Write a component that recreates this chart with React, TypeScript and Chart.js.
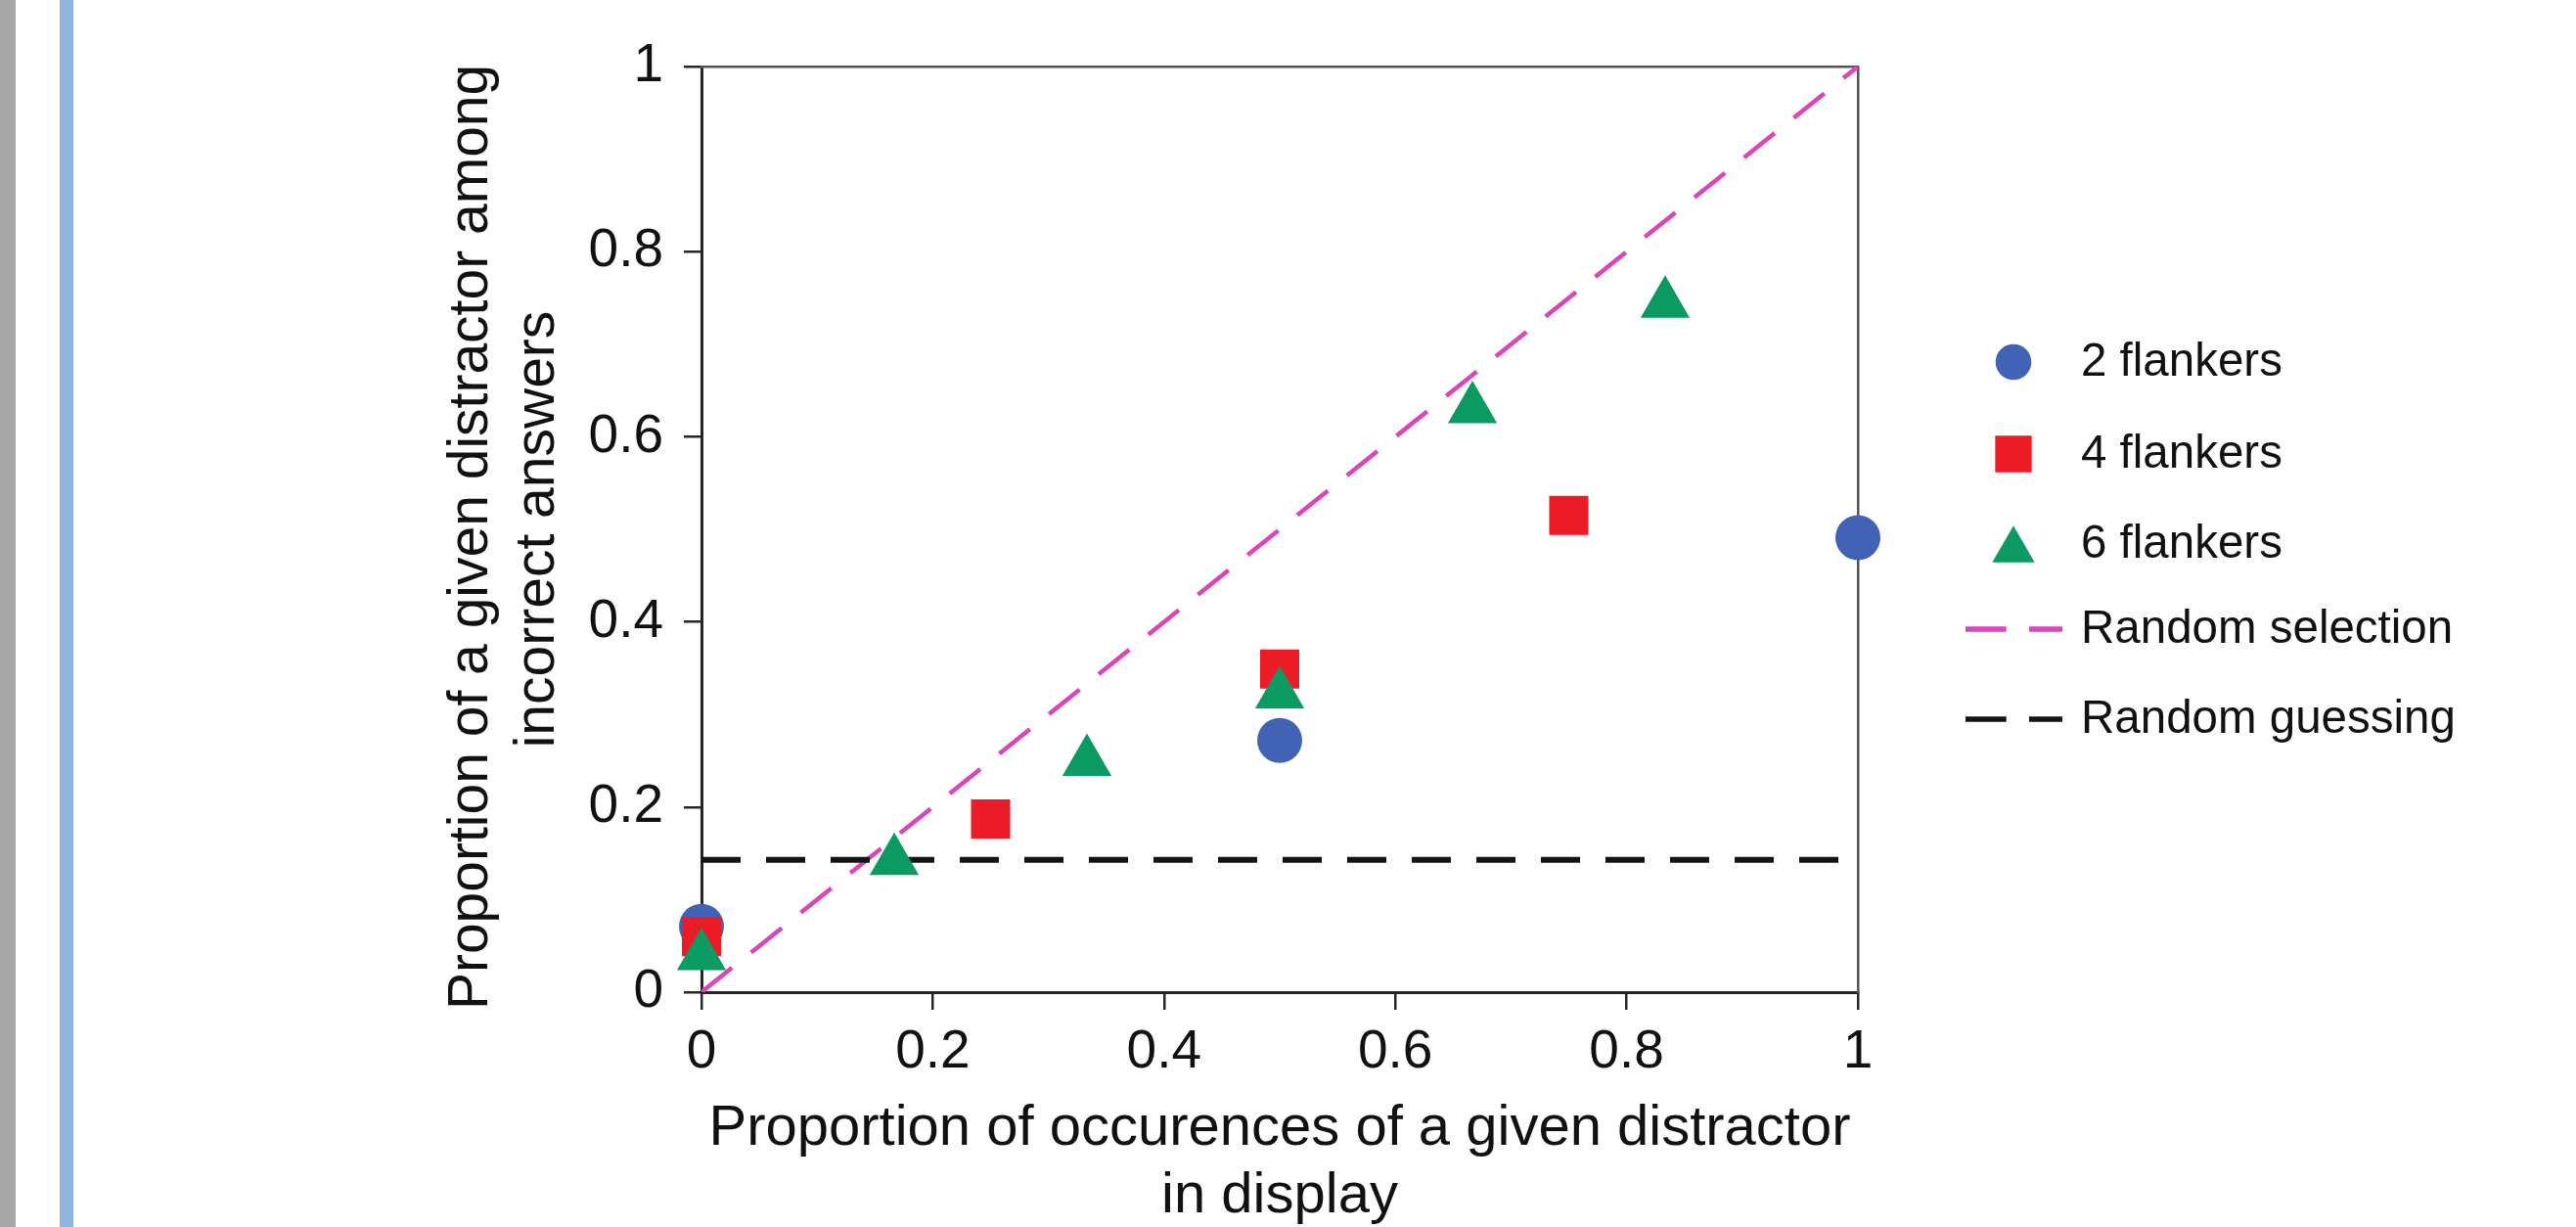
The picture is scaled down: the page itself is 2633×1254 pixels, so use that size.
import React, { useEffect, useRef } from 'react';
import { Chart, registerables } from 'chart.js';

Chart.register(...registerables);

// ---- data ----
const flank2X = [0, 0.5, 1];
const flank2Y = [0.071, 0.272, 0.491];
const flank4X = [0, 0.25, 0.5, 0.75];
const flank4Y = [0.06, 0.187, 0.349, 0.515];
const flank6X = [0, 0.1667, 0.3333, 0.5, 0.6667, 0.8333];
const flank6Y = [0.039, 0.142, 0.249, 0.322, 0.63, 0.744];
const selectionX = [0, 1];
const selectionY = [0, 1];
const guessingX = [0, 1];
const guessingY = [0.143, 0.143];

const seriesLabels = ['2 flankers', '4 flankers', '6 flankers', 'Random selection', 'Random guessing'];
const xTickLabels = ['0', '0.2', '0.4', '0.6', '0.8', '1'];
const yTickLabels = ['0', '0.2', '0.4', '0.6', '0.8', '1'];
const xTitle = ['Proportion of occurences of a given distractor', 'in display'];
const yTitle = ['Proportion of a given distractor among ', 'incorrect answers'];

const FONT = '"Liberation Sans", Arial, Helvetica, sans-serif';
const TEXT = '#111111';
const AXIS = '#262626';
const FRAME = '#555555';

const pts = (xs: number[], ys: number[]) => xs.map((x, i) => ({ x, y: ys[i] }));

const sideLegend = {
  id: 'sideLegend',
  afterDraw(chart: any, _args: any, opts: any) {
    const ctx = chart.ctx as CanvasRenderingContext2D;
    const right = chart.chartArea.right;
    const markerX = right + opts.markerOffset;
    const lineX0 = right + opts.lineStart;
    const lineX1 = right + opts.lineEnd;
    const textX = right + opts.textOffset;
    chart.data.datasets.forEach((ds: any, i: number) => {
      const cy = opts.rows[i];
      ctx.save();
      if (ds.showLine) {
        ctx.strokeStyle = ds.borderColor;
        ctx.lineWidth = opts.lineWidth;
        ctx.setLineDash(opts.dash);
        ctx.beginPath();
        ctx.moveTo(lineX0, cy);
        ctx.lineTo(lineX1, cy);
        ctx.stroke();
        ctx.setLineDash([]);
      } else {
        ctx.fillStyle = ds.backgroundColor;
        const r = opts.radius[ds.pointStyle];
        ctx.beginPath();
        if (ds.pointStyle === 'circle') {
          ctx.arc(markerX, cy, r, 0, Math.PI * 2);
        } else if (ds.pointStyle === 'rect') {
          const s = r * Math.SQRT2;
          ctx.rect(markerX - s / 2, cy - s / 2, s, s);
        } else {
          const py = cy + r / 4;
          ctx.moveTo(markerX, py - r);
          ctx.lineTo(markerX + r * Math.sin((2 * Math.PI) / 3), py + r / 2);
          ctx.lineTo(markerX - r * Math.sin((2 * Math.PI) / 3), py + r / 2);
          ctx.closePath();
        }
        ctx.fill();
      }
      ctx.fillStyle = opts.color;
      ctx.font = opts.font;
      ctx.textAlign = 'left';
      ctx.textBaseline = 'middle';
      ctx.fillText(ds.label, textX, cy + opts.textShift);
      ctx.restore();
    });
  },
};

export default function App() {
  const ref = useRef<HTMLCanvasElement>(null);

  useEffect(() => {
    if (!ref.current) return;
    Chart.defaults.font.family = FONT;
    const chart = new Chart(ref.current, {
      type: 'scatter',
      data: {
        datasets: [
          {
            label: seriesLabels[0],
            data: pts(flank2X, flank2Y),
            pointStyle: 'circle',
            pointRadius: 23,
            pointHoverRadius: 23,
            backgroundColor: '#4262b5',
            pointBorderWidth: 0,
            clip: false,
            order: 3,
          },
          {
            label: seriesLabels[1],
            data: pts(flank4X, flank4Y),
            pointStyle: 'rect',
            pointRadius: 28.3,
            pointHoverRadius: 28.3,
            backgroundColor: '#ec1c27',
            pointBorderWidth: 0,
            clip: false,
            order: 2,
          },
          {
            label: seriesLabels[2],
            data: pts(flank6X, flank6Y),
            pointStyle: 'triangle',
            pointRadius: 29,
            pointHoverRadius: 29,
            backgroundColor: '#0b9a62',
            pointBorderWidth: 0,
            clip: false,
            order: 1,
          },
          {
            label: seriesLabels[3],
            data: pts(selectionX, selectionY),
            showLine: true,
            pointRadius: 0,
            borderColor: '#dc45b8',
            backgroundColor: '#dc45b8',
            borderWidth: 4.5,
            borderDash: [40, 25],
            order: 5,
          },
          {
            label: seriesLabels[4],
            data: pts(guessingX, guessingY),
            showLine: true,
            pointRadius: 0,
            borderColor: '#141414',
            backgroundColor: '#141414',
            borderWidth: 6,
            borderDash: [40, 26],
            order: 4,
          },
        ] as any,
      },
      options: {
        responsive: false,
        maintainAspectRatio: false,
        devicePixelRatio: 1,
        animation: false,
        events: [],
        layout: { padding: { left: 0, right: 734, top: 68, bottom: 0 } },
        plugins: {
          legend: { display: false },
          tooltip: { enabled: false },
          sideLegend: {
            markerOffset: 159,
            lineStart: 110,
            lineEnd: 209,
            textOffset: 228,
            rows: [370, 464, 556, 643, 735],
            lineWidth: 5.7,
            dash: [41.7, 23.3],
            radius: { circle: 18.3, rect: 26.4, triangle: 25 },
            font: `47.5px ${FONT}`,
            color: TEXT,
            textShift: 0.5,
          },
        } as any,
        scales: {
          x: {
            type: 'linear',
            position: 'bottom',
            min: 0,
            max: 1,
            afterFit: (s: any) => {
              s.height = 240;
            },
            ticks: {
              stepSize: 0.2,
              autoSkip: false,
              maxRotation: 0,
              padding: 11,
              color: TEXT,
              font: { size: 55, family: FONT },
              callback: (_v: any, i: number) => xTickLabels[i],
            },
            grid: {
              drawOnChartArea: false,
              drawTicks: true,
              tickLength: 18,
              color: AXIS,
              lineWidth: 2.5,
            },
            border: { display: true, color: AXIS, width: 3 },
            title: {
              display: true,
              text: xTitle,
              color: TEXT,
              font: { size: 58, family: FONT },
              padding: { top: 0, bottom: -4 },
            },
          },
          y: {
            type: 'linear',
            position: 'left',
            min: 0,
            max: 1,
            afterFit: (s: any) => {
              s.width = 717;
            },
            ticks: {
              stepSize: 0.2,
              autoSkip: false,
              padding: 21,
              color: TEXT,
              font: { size: 55, family: FONT },
              callback: (_v: any, i: number) => yTickLabels[i],
            },
            grid: {
              drawOnChartArea: false,
              drawTicks: true,
              tickLength: 18,
              color: AXIS,
              lineWidth: 2.5,
            },
            border: { display: true, color: AXIS, width: 3 },
            title: {
              display: true,
              text: yTitle,
              color: TEXT,
              font: { size: 57, family: FONT },
              padding: { top: 448, bottom: 0 },
            },
          },
          x2: {
            type: 'linear',
            position: 'top',
            min: 0,
            max: 1,
            afterFit: (s: any) => {
              s.height = 0;
            },
            ticks: { display: false },
            grid: { drawOnChartArea: false, drawTicks: false },
            border: { display: true, color: FRAME, width: 2.5 },
          },
          y2: {
            type: 'linear',
            position: 'right',
            min: 0,
            max: 1,
            afterFit: (s: any) => {
              s.width = 0;
            },
            ticks: { display: false },
            grid: { drawOnChartArea: false, drawTicks: false },
            border: { display: true, color: FRAME, width: 2.5 },
          },
        } as any,
      },
      plugins: [sideLegend as any],
    } as any);
    return () => chart.destroy();
  }, []);

  return (
    <div
      style={{
        position: 'fixed',
        left: 0,
        top: 0,
        width: 2633,
        height: 1254,
        background: '#ffffff',
        overflow: 'hidden',
      }}
    >
      <div style={{ position: 'absolute', left: 0, top: 0, width: 16, height: 1254, background: '#a8a8a8' }} />
      <div style={{ position: 'absolute', left: 61, top: 0, width: 14, height: 1254, background: '#8fb4e2' }} />
      <canvas
        ref={ref}
        width={2633}
        height={1254}
        style={{ position: 'absolute', left: 0, top: 0, width: 2633, height: 1254 }}
      />
    </div>
  );
}
